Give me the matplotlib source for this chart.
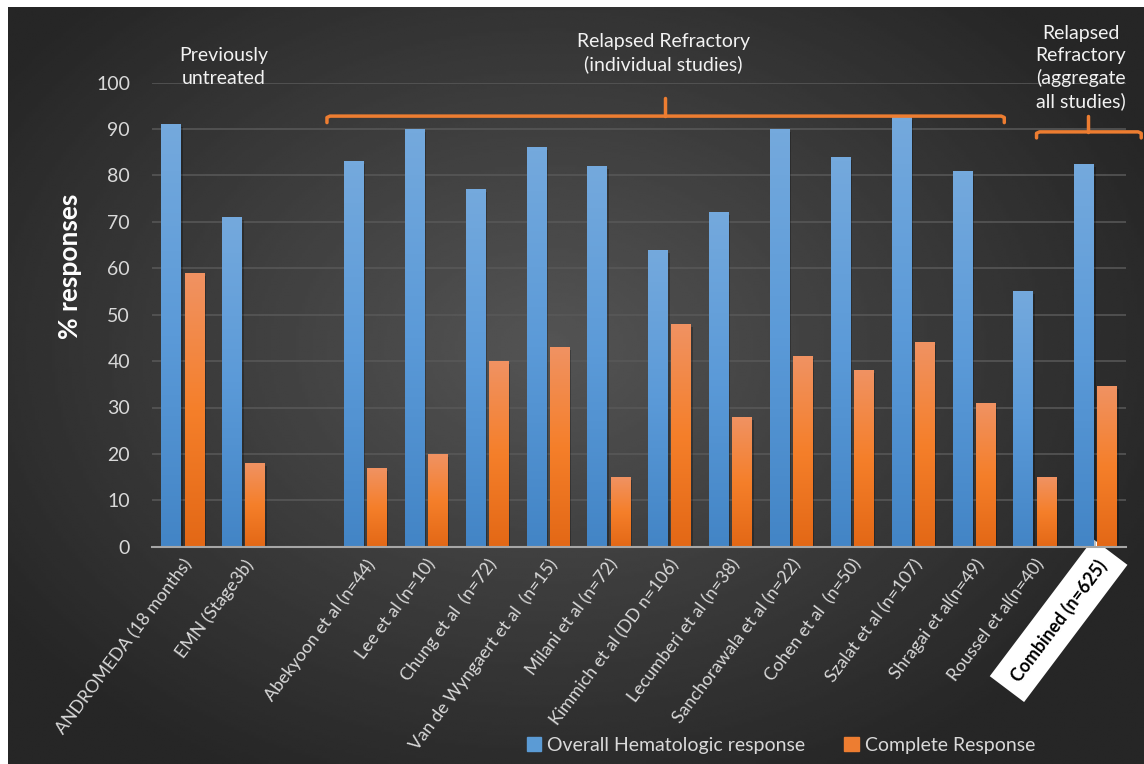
import numpy as np
import matplotlib.pyplot as plt
from matplotlib.colors import LinearSegmentedColormap
from matplotlib.patches import Patch

plt.rcParams['font.family'] = ['Lato', 'DejaVu Sans']

categories = ['ANDROMEDA (18 months)', 'EMN (Stage3b)', '',
              'Abekyoon et al (n=44)', 'Lee et al (n=10)', 'Chung et al  (n=72)',
              'Van de Wyngaert et al  (n=15)', 'Milani et al (n=72)',
              'Kimmich et al (DD n=106)', 'Lecumberi et al (n=38)',
              'Sanchorawala et al (n=22)', 'Cohen et al  (n=50)',
              'Szalat et al (n=107)', 'Shragai et al(n=49)', 'Roussel et al(n=40)',
              'Combined (n=625)']
overall = [91, 71, np.nan, 83, 90, 77, 86, 82, 64, 72, 90, 84, 92.6, 81, 55, 82.5]
complete = [59, 18, np.nan, 17, 20, 40, 43, 15, 48, 28, 41, 38, 44, 31, 15, 34.5]
yticks = list(range(0, 101, 10))

W, H = 1144, 764
fig = plt.figure(figsize=(W / 100, H / 100), dpi=100, facecolor='white')

# radial dark background
bg = fig.add_axes([8 / W, 0, 1 - 8 / W, 1 - 7 / H])
gx, gy = np.meshgrid(np.linspace(-1, 1, 400), np.linspace(-1, 1, 300))
r = np.sqrt(((gx + 0.05) / 1.1) ** 2 + ((gy + 0.1) / 1.2) ** 2)
shade = np.clip(0.33 - 0.17 * r, 0.15, 0.35)
bg.imshow(shade, cmap='gray', vmin=0, vmax=1, aspect='auto', interpolation='bilinear')
bg.axis('off')

ax = fig.add_axes([152.3 / W, 1 - 546.7 / H, (1126 - 152.3) / W, (546.7 - 82.7) / H])
ax.patch.set_alpha(0)

x = np.arange(len(categories))
bw = 0.32
blue_cmap = LinearSegmentedColormap.from_list('b', ['#4385c6', '#5b9ad8', '#74a9dd'])
orange_cmap = LinearSegmentedColormap.from_list('o', ['#e36816', '#f57f2a', '#f09262'])

b1 = ax.bar(x - 0.19, overall, bw, color='none', label='Overall Hematologic response')
b2 = ax.bar(x + 0.19, complete, bw, color='none', label='Complete Response')
grad = np.linspace(0, 1, 100).reshape(-1, 1)
for bars, cm in ((b1, blue_cmap), (b2, orange_cmap)):
    for p in bars:
        h = p.get_height()
        if np.isnan(h):
            continue
        x0 = p.get_x()
        w = p.get_width()
        # soft shadow
        ax.add_patch(plt.Rectangle((x0 + 0.03, 0), w, h - 0.6, color='black',
                                   alpha=0.25, lw=0, zorder=1))
        ax.imshow(grad, extent=[x0, x0 + w, 0, h], origin='lower', cmap=cm,
                  aspect='auto', zorder=2)

ax.set_xlim(-0.5, len(categories) - 0.5)
ax.set_ylim(0, 100)
ax.set_yticks(yticks)
ax.yaxis.grid(True, color='#595959', lw=1.1)
ax.set_axisbelow(True)
for s in ['top', 'right', 'left']:
    ax.spines[s].set_visible(False)
ax.spines['bottom'].set_color('#a6a6a6')
ax.spines['bottom'].set_linewidth(1.5)
ax.spines['bottom'].set_zorder(5)
ax.tick_params(length=0, colors='#d9d9d9', labelsize=14)
ax.tick_params(axis='y', pad=16)

ax.set_xticks(x)
ax.set_xticklabels(categories, rotation=53, ha='right', rotation_mode='anchor',
                   fontsize=12.8, color='#d9d9d9')
ax.tick_params(axis='x', pad=7)
last = ax.get_xticklabels()[-1]
last.set_color('black')
last.set_fontweight('bold')
last.set_bbox(dict(facecolor='white', edgecolor='none', pad=9))

ax.set_ylabel('% responses', fontsize=19, fontweight='bold', color='white')
ax.yaxis.set_label_coords(-0.072, 0.605)

# group annotations
tc = '#f2f2f2'
ax.text(0.68, 103.4, 'Previously\nuntreated', ha='center', va='center', color=tc,
        fontsize=14, linespacing=1.4, clip_on=False)
ax.text(7.9, 106.4, 'Relapsed Refractory\n(individual studies)', ha='center',
        va='center', color=tc, fontsize=14, linespacing=1.35, clip_on=False)
ax.text(14.76, 103.2, 'Relapsed\nRefractory\n(aggregate\nall studies)', ha='center',
        va='center', color=tc, fontsize=14, linespacing=1.35, clip_on=False)

oc = '#ed7d31'
kw = dict(color=oc, lw=2.5, clip_on=False, solid_capstyle='round',
          solid_joinstyle='round')
ax.plot([2.37, 2.37, 2.42, 13.45, 13.5, 13.5], [91.4, 92.5, 92.8, 92.8, 92.5, 91.4], **kw)
ax.plot([7.93, 7.93], [92.8, 96.7], **kw)
ax.plot([14.03, 14.03, 14.08, 15.7, 15.75, 15.75], [88.1, 89.1, 89.4, 89.4, 89.1, 88.1], **kw)
ax.plot([14.87, 14.87], [89.4, 92.8], **kw)

handles = [Patch(color='#5b9bd5'), Patch(color='#ed7d31')]
fig.legend(handles, ['Overall Hematologic response', 'Complete Response'],
           loc='center', bbox_to_anchor=(781 / W, 1 - 745 / H), ncol=2,
           frameon=False, fontsize=14, labelcolor='#d9d9d9', handlelength=0.75,
           handleheight=0.75, handletextpad=0.3, columnspacing=2.0)

fig.savefig('out.png', dpi=100, facecolor='white')
